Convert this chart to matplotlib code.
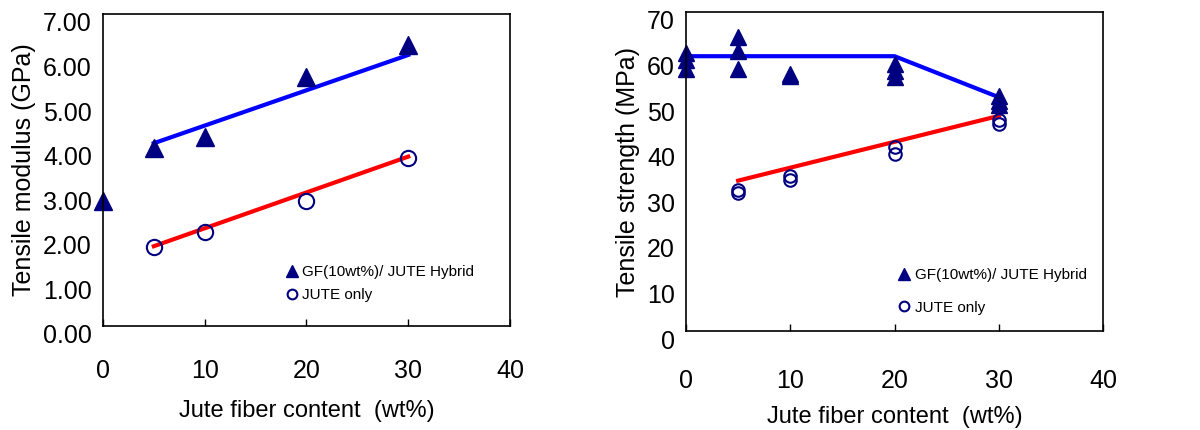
import matplotlib
matplotlib.use('Agg')
import matplotlib.pyplot as plt
from matplotlib.lines import Line2D
from matplotlib.transforms import ScaledTranslation

plt.rcParams['font.family'] = ['Liberation Sans', 'DejaVu Sans']

# modulus panel
mod_hyb_x = [0, 5, 10, 20, 30]
mod_hyb_y = [2.8, 4.0, 4.25, 5.58, 6.3]
mod_hyb_fit_x = [5, 30]
mod_hyb_fit_y = [4.1, 6.08]
mod_jute_x = [5, 10, 20, 30]
mod_jute_y = [1.77, 2.1, 2.8, 3.76]
mod_jute_fit_x = [5, 30]
mod_jute_fit_y = [1.79, 3.8]

# strength panel
str_hyb_x = [0, 0, 0, 5, 5, 5, 10, 10, 20, 20, 20, 30, 30, 30]
str_hyb_y = [61, 59.5, 57.5, 64.5, 61.5, 57.5, 56.5, 56, 58.5, 57, 55.8, 51.5, 50.5, 49.5]
str_hyb_fit_x = [0, 20, 30]
str_hyb_fit_y = [60.3, 60.3, 51.3]
str_jute_x = [5, 5, 10, 10, 20, 20, 30, 30]
str_jute_y = [31, 30.3, 34, 33.2, 40.3, 38.8, 46.2, 45.5]
str_jute_fit_x = [5, 30]
str_jute_fit_y = [33, 47.2]

x_ticks = [0, 10, 20, 30, 40]
mod_ticks = [0, 1, 2, 3, 4, 5, 6, 7]
str_ticks = [0, 10, 20, 30, 40, 50, 60, 70]

navy = '#000080'

fig = plt.figure(figsize=(12, 4.3), dpi=100)
ax1 = fig.add_axes([0.0858, 0.2419, 0.3392, 0.7256])
ax2 = fig.add_axes([0.5717, 0.2302, 0.3475, 0.7419])


def style(ax, yticks, fmt, ylabel, ylim, leg_x, leg_sp, xpad, xlpad):
    ax.set_xlim(0, 40)
    ax.set_ylim(ylim)
    ax.set_xticks(x_ticks)
    ax.set_yticks(yticks)
    ax.set_yticklabels([fmt % v for v in yticks])
    ax.tick_params(axis='x', direction='in', length=5, width=1, pad=xpad, labelsize=18)
    ax.tick_params(axis='y', length=0, pad=8, labelsize=18)
    for lab in ax.get_yticklabels():
        lab.set_transform(lab.get_transform() + ScaledTranslation(0, -0.08, fig.dpi_scale_trans))
    for s in ax.spines.values():
        s.set_linewidth(1.2)
    ax.set_xlabel('Jute fiber content  (wt%)', fontsize=17, labelpad=xlpad)
    ax.set_ylabel(ylabel, fontsize=18, labelpad=5)
    handles = [Line2D([], [], ls='none', marker='^', ms=8, color=navy),
               Line2D([], [], ls='none', marker='o', ms=7, mfc='none', mec=navy, mew=1.5)]
    ax.legend(handles, ['GF(10wt%)/ JUTE Hybrid', 'JUTE only'], frameon=False,
              fontsize=11, handlelength=0.8, handletextpad=0.3, labelspacing=leg_sp,
              loc='upper left', bbox_to_anchor=(leg_x, 0.22), borderpad=0)


ax1.plot(mod_hyb_fit_x, mod_hyb_fit_y, color='#0000ff', lw=3)
ax1.plot(mod_jute_fit_x, mod_jute_fit_y, color='#ff0000', lw=3)
ax1.plot(mod_hyb_x, mod_hyb_y, ls='none', marker='^', ms=13, color=navy, clip_on=False)
ax1.plot(mod_jute_x, mod_jute_y, ls='none', marker='o', ms=11, mfc='none', mec=navy, mew=1.5)
style(ax1, mod_ticks, '%.2f', 'Tensile modulus (GPa)', (0, 7), 0.43, 0.6, 24, 12)

ax2.plot(str_hyb_fit_x, str_hyb_fit_y, color='#0000ff', lw=3)
ax2.plot(str_jute_fit_x, str_jute_fit_y, color='#ff0000', lw=3)
ax2.plot(str_hyb_x, str_hyb_y, ls='none', marker='^', ms=11, color=navy, clip_on=False)
ax2.plot(str_jute_x, str_jute_y, ls='none', marker='o', ms=9, mfc='none', mec=navy, mew=1.5)
style(ax2, str_ticks, '%d', 'Tensile strength (MPa)', (0, 70), 0.49, 1.2, 27, 10)

fig.savefig('out.png', dpi=100)
